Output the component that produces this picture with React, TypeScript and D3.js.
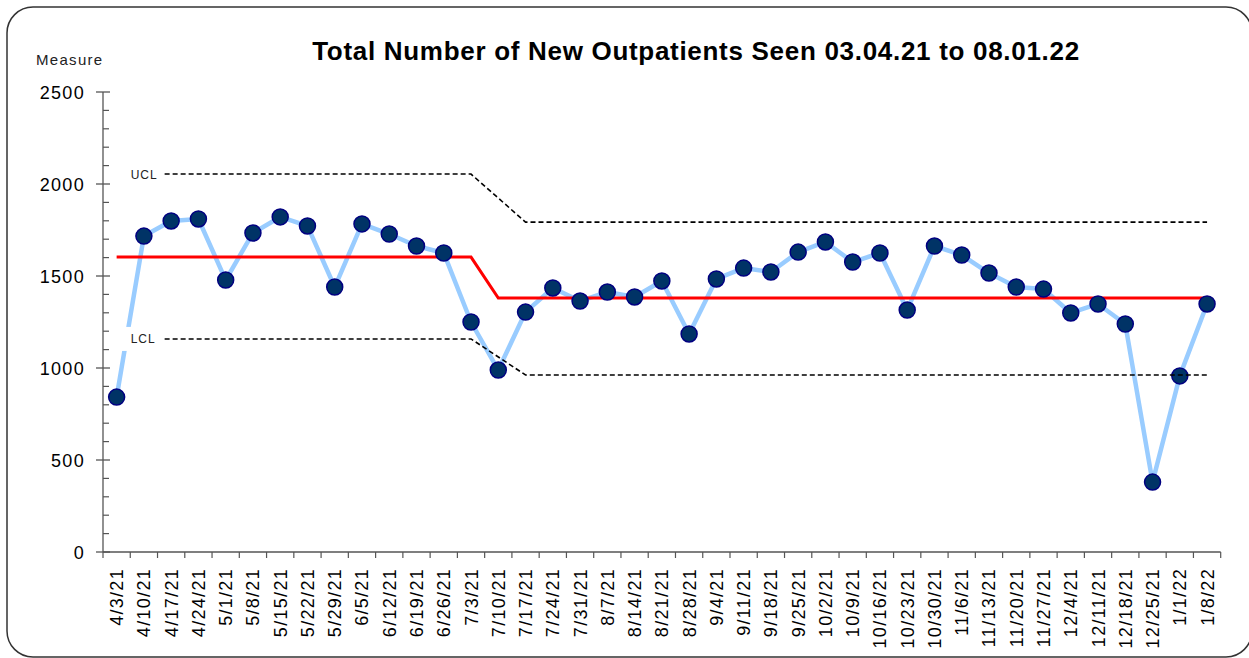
import { scaleBand, scaleLinear, line } from "d3";

// weekly dates
const dates = [
  "4/3/21", "4/10/21", "4/17/21", "4/24/21", "5/1/21", "5/8/21", "5/15/21", "5/22/21", "5/29/21",
  "6/5/21", "6/12/21", "6/19/21", "6/26/21", "7/3/21", "7/10/21", "7/17/21", "7/24/21", "7/31/21",
  "8/7/21", "8/14/21", "8/21/21", "8/28/21", "9/4/21", "9/11/21", "9/18/21", "9/25/21", "10/2/21",
  "10/9/21", "10/16/21", "10/23/21", "10/30/21", "11/6/21", "11/13/21", "11/20/21", "11/27/21",
  "12/4/21", "12/11/21", "12/18/21", "12/25/21", "1/1/22", "1/8/22",
];

const values = [
  842, 1717, 1799, 1810, 1478, 1734, 1821, 1772, 1440, 1783, 1728, 1663, 1625, 1250, 989,
  1304, 1435, 1364, 1413, 1386, 1473, 1185, 1484, 1543, 1522, 1630, 1685, 1576, 1625, 1315,
  1663, 1614, 1516, 1440, 1429, 1299, 1348, 1239, 380, 957, 1348,
];

// [date index, value] break points of the process limits
const centre: [number, number][] = [[0, 1603], [13, 1603], [14, 1380], [40, 1380]];
const ucl: [number, number][] = [[0, 2054], [13, 2054], [15, 1793], [40, 1793]];
const lcl: [number, number][] = [[0, 1158], [13, 1158], [15, 962], [40, 962]];

const yTicks = [0, 500, 1000, 1500, 2000, 2500];

const title = "Total Number of New Outpatients Seen 03.04.21 to 08.01.22";
const font = "'Liberation Sans', Arial, sans-serif";

export default function App() {
  const x = scaleBand<string>().domain(dates).range([103, 1220.7]);
  const y = scaleLinear().domain([0, 2500]).range([552, 92]);
  const cx = (i: number) => (x(dates[i]) as number) + x.bandwidth() / 2;

  const dataLine = line<number>()
    .x((_, i) => cx(i))
    .y((d) => y(d));
  const stepLine = line<[number, number]>()
    .x((d) => cx(d[0]))
    .y((d) => y(d[1]));

  const minor = y.ticks(25).filter((t) => !yTicks.includes(t));
  const x0 = cx(0);

  return (
    <div style={{ position: "fixed", left: 0, top: 0 }}>
      <svg width={1249} height={658} style={{ display: "block", background: "#fff" }}>
        <rect x={7} y={7} width={1245} height={650} rx={26} fill="#fff" stroke="#333" strokeWidth={1.5} />

        <text x={696} y={60} textAnchor="middle" fontFamily={font} fontSize={26} fontWeight="bold" letterSpacing={0.7} fill="#000">
          {title}
        </text>
        <text x={36} y={65} fontFamily={font} fontSize={15} letterSpacing={1.3} fill="#222">
          Measure
        </text>

        {/* y axis */}
        <line x1={103} x2={103} y1={y(2500)} y2={y(0)} stroke="#555" strokeWidth={1.3} />
        {yTicks.map((t) => (
          <g key={t}>
            <line x1={96} x2={110} y1={y(t)} y2={y(t)} stroke="#555" strokeWidth={1.3} />
            <text x={85} y={y(t) + 6.5} textAnchor="end" fontFamily={font} fontSize={18} letterSpacing={1.3} fill="#000">
              {t}
            </text>
          </g>
        ))}
        {minor.map((t) => (
          <line key={t} x1={103} x2={109} y1={y(t)} y2={y(t)} stroke="#555" strokeWidth={1.2} />
        ))}

        {/* x axis */}
        <line x1={103} x2={1220.7} y1={552} y2={552} stroke="#555" strokeWidth={1.3} />
        {dates.map((d) => (
          <line key={d} x1={x(d) as number} x2={x(d) as number} y1={552} y2={558} stroke="#555" strokeWidth={1.2} />
        ))}
        <line x1={1220.7} x2={1220.7} y1={552} y2={558} stroke="#555" strokeWidth={1.2} />
        {dates.map((d, i) => (
          <text
            key={d}
            transform={`translate(${cx(i) + 6.5},568) rotate(-90)`}
            textAnchor="end"
            fontFamily={font}
            fontSize={18}
            letterSpacing={1.3}
            fill="#000"
          >
            {d}
          </text>
        ))}

        {/* data */}
        <path d={dataLine(values) ?? ""} fill="none" stroke="#99ccff" strokeWidth={4.5} strokeLinejoin="round" />
        <path d={stepLine(centre) ?? ""} fill="none" stroke="#ff0000" strokeWidth={3} />
        {values.map((v, i) => (
          <circle key={i} cx={cx(i)} cy={y(v)} r={8} fill="#003366" stroke="#000080" strokeWidth={1.5} />
        ))}
        <path d={stepLine(ucl) ?? ""} fill="none" stroke="#000" strokeWidth={1.6} strokeDasharray="5,3" />
        <path d={stepLine(lcl) ?? ""} fill="none" stroke="#000" strokeWidth={1.6} strokeDasharray="5,3" />

        {/* limit labels */}
        {[
          { name: "UCL", v: ucl[0][1] },
          { name: "LCL", v: lcl[0][1] },
        ].map((l) => (
          <g key={l.name}>
            <rect x={x0 - 1} y={y(l.v) - 12} width={47} height={24} fill="#fff" />
            <text x={x0 + 14} y={y(l.v) + 4.5} fontFamily={font} fontSize={12} letterSpacing={1} fill="#222">
              {l.name}
            </text>
          </g>
        ))}
      </svg>
    </div>
  );
}
